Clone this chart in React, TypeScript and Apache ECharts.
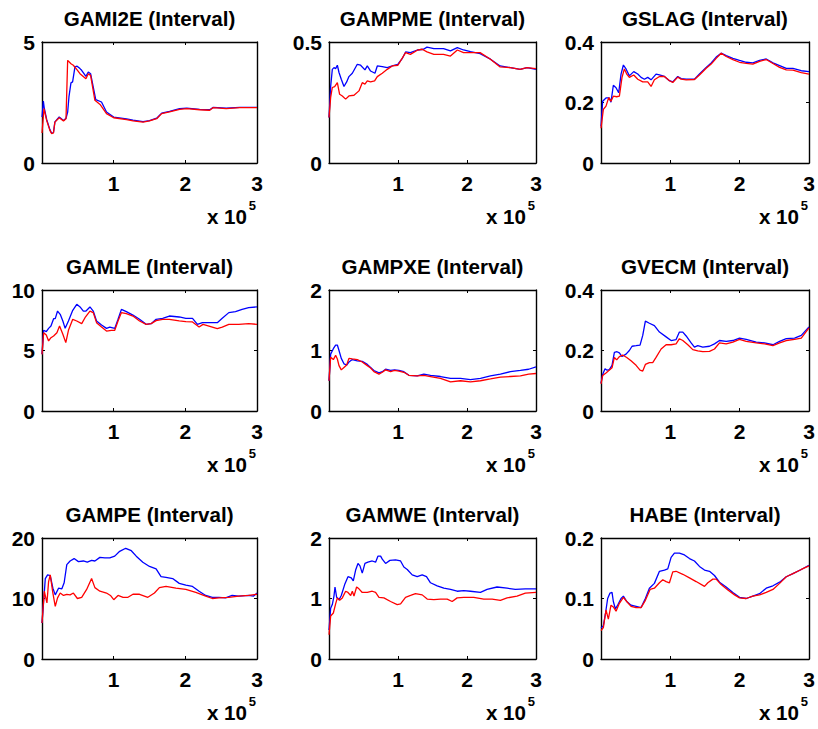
import React, { useEffect, useRef } from "react";
import * as echarts from "echarts";

// ---------- data (x in units of 1e5) ----------
const titles = [
  "GAMI2E (Interval)", "GAMPME (Interval)", "GSLAG (Interval)",
  "GAMLE (Interval)", "GAMPXE (Interval)", "GVECM (Interval)",
  "GAMPE (Interval)", "GAMWE (Interval)", "HABE (Interval)",
];
const yMax = [5, 0.5, 0.4, 10, 2, 0.4, 20, 2, 0.2];
const yStep = [5, 0.5, 0.2, 5, 1, 0.2, 10, 1, 0.1];
const xMax = 3;
const xStep = 1;
const xExponentLabel = "x 10";
const xExponent = "5";

const blueGAMI2E = [[0,1.9],[0.019,2.56],[0.03,2.3],[0.065,1.8],[0.11,1.38],[0.135,1.23],[0.16,1.26],[0.18,1.7],[0.24,1.9],[0.3,1.76],[0.335,1.85],[0.358,2.1],[0.376,2.73],[0.404,3.31],[0.427,3.35],[0.46,3.97],[0.49,4.0],[0.53,3.9],[0.553,3.83],[0.613,3.58],[0.646,3.76],[0.678,3.69],[0.75,2.62],[0.83,2.52],[0.9,2.11],[1.0,1.9],[1.18,1.82],[1.27,1.77],[1.41,1.71],[1.5,1.75],[1.6,1.85],[1.67,2.06],[1.78,2.13],[1.92,2.25],[2.02,2.27],[2.2,2.22],[2.34,2.2],[2.39,2.3],[2.57,2.27],[2.76,2.3],[3.0,2.3]];
const redGAMI2E = [[0,1.24],[0.028,2.25],[0.065,1.76],[0.11,1.35],[0.135,1.21],[0.16,1.24],[0.18,1.69],[0.24,1.87],[0.3,1.74],[0.335,1.83],[0.358,4.24],[0.404,4.1],[0.437,4.04],[0.49,3.85],[0.53,3.69],[0.613,3.48],[0.646,3.69],[0.678,3.62],[0.738,2.59],[0.81,2.42],[0.9,2.04],[1.0,1.87],[1.18,1.79],[1.27,1.74],[1.41,1.69],[1.5,1.74],[1.6,1.83],[1.67,2.04],[1.78,2.11],[1.92,2.22],[2.02,2.25],[2.2,2.2],[2.34,2.18],[2.39,2.29],[2.57,2.25],[2.76,2.29],[3.0,2.29]];

const blueGAMPME = [[0,0.188],[0.024,0.316],[0.048,0.387],[0.072,0.394],[0.096,0.39],[0.121,0.404],[0.145,0.374],[0.178,0.346],[0.217,0.316],[0.256,0.335],[0.289,0.357],[0.338,0.371],[0.41,0.408],[0.458,0.404],[0.521,0.385],[0.555,0.401],[0.603,0.38],[0.666,0.371],[0.7,0.401],[0.772,0.398],[0.844,0.394],[0.917,0.401],[0.999,0.408],[1.06,0.431],[1.11,0.459],[1.18,0.456],[1.28,0.467],[1.37,0.47],[1.42,0.479],[1.52,0.473],[1.66,0.473],[1.76,0.463],[1.86,0.477],[1.95,0.467],[2.05,0.46],[2.19,0.452],[2.34,0.429],[2.48,0.401],[2.63,0.394],[2.77,0.387],[2.87,0.394],[3.0,0.387]];
const redGAMPME = [[0,0.188],[0.024,0.271],[0.048,0.312],[0.082,0.316],[0.121,0.332],[0.154,0.284],[0.193,0.277],[0.241,0.264],[0.289,0.277],[0.362,0.28],[0.434,0.298],[0.482,0.332],[0.521,0.326],[0.555,0.339],[0.603,0.335],[0.661,0.339],[0.7,0.357],[0.772,0.371],[0.844,0.387],[0.917,0.401],[0.999,0.404],[1.11,0.456],[1.18,0.449],[1.28,0.466],[1.35,0.47],[1.42,0.459],[1.52,0.449],[1.66,0.449],[1.76,0.442],[1.86,0.467],[1.95,0.456],[2.05,0.456],[2.19,0.456],[2.34,0.429],[2.48,0.397],[2.63,0.394],[2.77,0.387],[2.87,0.394],[3.0,0.39]];

const blueGSLAG = [[0,0.121],[0.024,0.204],[0.072,0.215],[0.12,0.215],[0.144,0.201],[0.178,0.257],[0.217,0.249],[0.255,0.232],[0.289,0.294],[0.323,0.324],[0.361,0.311],[0.409,0.288],[0.472,0.302],[0.53,0.294],[0.578,0.283],[0.626,0.277],[0.674,0.283],[0.722,0.275],[0.794,0.294],[0.843,0.291],[0.915,0.286],[0.987,0.272],[1.035,0.268],[1.107,0.286],[1.156,0.279],[1.228,0.277],[1.348,0.277],[1.42,0.294],[1.517,0.316],[1.589,0.331],[1.661,0.35],[1.733,0.363],[1.806,0.355],[1.902,0.346],[1.998,0.339],[2.094,0.333],[2.19,0.331],[2.287,0.339],[2.383,0.344],[2.48,0.331],[2.576,0.322],[2.672,0.313],[2.768,0.313],[2.889,0.305],[3.0,0.302]];
const redGSLAG = [[0,0.115],[0.034,0.177],[0.072,0.188],[0.111,0.216],[0.144,0.204],[0.178,0.221],[0.226,0.219],[0.265,0.221],[0.303,0.283],[0.337,0.311],[0.371,0.294],[0.409,0.283],[0.472,0.291],[0.53,0.277],[0.602,0.268],[0.674,0.268],[0.722,0.253],[0.77,0.275],[0.843,0.286],[0.915,0.286],[0.987,0.272],[1.035,0.266],[1.107,0.284],[1.156,0.277],[1.228,0.275],[1.348,0.276],[1.42,0.291],[1.517,0.313],[1.589,0.327],[1.661,0.346],[1.733,0.363],[1.806,0.352],[1.902,0.342],[1.998,0.333],[2.094,0.329],[2.19,0.327],[2.287,0.336],[2.383,0.342],[2.48,0.329],[2.576,0.316],[2.672,0.308],[2.768,0.307],[2.889,0.299],[3.0,0.294]];

const blueGAMLE = [[0,4.7],[0.023,6.67],[0.06,6.56],[0.092,6.83],[0.125,7.02],[0.162,7.63],[0.185,7.63],[0.217,8.26],[0.254,7.99],[0.291,7.44],[0.323,6.83],[0.369,7.44],[0.429,8.32],[0.485,8.82],[0.531,8.6],[0.577,8.26],[0.614,8.26],[0.669,8.6],[0.715,8.26],[0.761,7.44],[0.831,7.11],[0.9,6.83],[0.946,6.94],[1.015,6.83],[1.061,7.58],[1.108,8.4],[1.177,8.21],[1.269,7.93],[1.361,7.58],[1.454,7.16],[1.523,7.22],[1.592,7.58],[1.684,7.66],[1.777,7.85],[1.915,7.77],[2.007,7.66],[2.1,7.66],[2.169,7.16],[2.238,7.3],[2.33,7.3],[2.446,7.3],[2.515,7.66],[2.607,8.13],[2.7,8.21],[2.792,8.4],[2.884,8.54],[3.0,8.6]];
const redGAMLE = [[0,4.68],[0.023,6.47],[0.06,6.28],[0.092,5.79],[0.125,6.06],[0.162,6.2],[0.208,6.47],[0.245,7.02],[0.291,6.34],[0.332,5.65],[0.369,6.67],[0.429,7.58],[0.485,7.44],[0.554,7.22],[0.6,7.71],[0.669,8.26],[0.715,8.13],[0.761,7.3],[0.831,6.94],[0.9,6.61],[0.969,6.67],[1.015,6.67],[1.061,7.44],[1.108,8.13],[1.177,8.04],[1.269,7.85],[1.361,7.44],[1.454,7.16],[1.523,7.22],[1.592,7.47],[1.684,7.58],[1.777,7.58],[1.915,7.44],[2.007,7.38],[2.1,7.36],[2.192,6.94],[2.247,7.16],[2.33,7.02],[2.446,6.8],[2.515,6.94],[2.607,7.16],[2.746,7.16],[2.884,7.22],[3.0,7.16]];

const blueGAMPXE = [[0,0.5],[0.024,0.94],[0.063,1.03],[0.096,1.09],[0.121,1.09],[0.145,1.0],[0.178,0.87],[0.217,0.78],[0.256,0.76],[0.289,0.81],[0.338,0.85],[0.41,0.83],[0.482,0.82],[0.555,0.77],[0.603,0.72],[0.651,0.67],[0.724,0.63],[0.772,0.65],[0.82,0.69],[0.892,0.67],[0.95,0.68],[1.013,0.67],[1.085,0.65],[1.158,0.59],[1.278,0.58],[1.375,0.61],[1.471,0.59],[1.616,0.57],[1.761,0.54],[1.905,0.54],[2.05,0.52],[2.195,0.54],[2.34,0.58],[2.484,0.61],[2.629,0.65],[2.774,0.67],[2.894,0.69],[3.0,0.73]];
const redGAMPXE = [[0,0.5],[0.024,0.89],[0.063,0.85],[0.096,0.92],[0.121,0.86],[0.145,0.75],[0.178,0.68],[0.217,0.72],[0.256,0.76],[0.289,0.87],[0.338,0.86],[0.41,0.85],[0.482,0.81],[0.555,0.75],[0.603,0.71],[0.651,0.65],[0.724,0.61],[0.772,0.64],[0.82,0.68],[0.892,0.65],[0.95,0.67],[1.013,0.66],[1.085,0.64],[1.158,0.59],[1.278,0.58],[1.375,0.59],[1.471,0.57],[1.616,0.54],[1.761,0.48],[1.905,0.5],[2.05,0.48],[2.195,0.5],[2.34,0.53],[2.484,0.56],[2.629,0.57],[2.774,0.58],[2.894,0.61],[3.0,0.62]];

const blueGVECM = [[0,0.092],[0.024,0.121],[0.058,0.14],[0.087,0.135],[0.12,0.137],[0.159,0.151],[0.193,0.194],[0.231,0.196],[0.265,0.192],[0.303,0.18],[0.361,0.188],[0.409,0.2],[0.448,0.214],[0.506,0.216],[0.563,0.218],[0.602,0.25],[0.64,0.297],[0.698,0.29],[0.77,0.282],[0.843,0.261],[0.939,0.245],[1.011,0.233],[1.083,0.236],[1.131,0.261],[1.18,0.261],[1.228,0.248],[1.3,0.225],[1.348,0.211],[1.396,0.216],[1.468,0.211],[1.565,0.214],[1.637,0.222],[1.709,0.233],[1.805,0.23],[1.902,0.233],[1.998,0.241],[2.094,0.237],[2.239,0.228],[2.359,0.225],[2.48,0.219],[2.576,0.23],[2.672,0.239],[2.792,0.241],[2.889,0.25],[3.0,0.278]];
const redGVECM = [[0,0.09],[0.024,0.117],[0.072,0.126],[0.13,0.137],[0.159,0.143],[0.193,0.177],[0.226,0.169],[0.265,0.18],[0.313,0.185],[0.371,0.177],[0.433,0.166],[0.506,0.151],[0.563,0.135],[0.602,0.132],[0.64,0.154],[0.698,0.16],[0.746,0.16],[0.794,0.177],[0.867,0.205],[0.939,0.219],[1.011,0.219],[1.083,0.222],[1.131,0.239],[1.18,0.233],[1.252,0.219],[1.324,0.203],[1.396,0.199],[1.468,0.196],[1.565,0.197],[1.637,0.205],[1.709,0.225],[1.805,0.222],[1.902,0.228],[1.998,0.237],[2.094,0.23],[2.239,0.225],[2.359,0.222],[2.48,0.216],[2.576,0.225],[2.672,0.233],[2.792,0.237],[2.889,0.241],[3.0,0.275]];

const blueGAMPE = [[0,5.95],[0.023,9.53],[0.046,13.28],[0.078,13.9],[0.115,13.8],[0.152,11.7],[0.185,10.6],[0.231,11.7],[0.277,11.6],[0.309,12.6],[0.346,15.6],[0.392,16.2],[0.448,16.6],[0.508,16.1],[0.577,16.2],[0.632,16.0],[0.692,16.3],[0.738,16.2],[0.808,16.8],[0.877,16.7],[0.946,16.7],[1.015,17.0],[1.084,17.8],[1.168,18.3],[1.246,17.9],[1.315,17.0],[1.407,16.0],[1.5,15.3],[1.592,14.9],[1.661,13.6],[1.73,13.5],[1.823,13.3],[1.915,12.5],[2.007,12.2],[2.1,12.0],[2.192,11.2],[2.284,10.5],[2.377,10.2],[2.469,10.2],[2.561,10.1],[2.653,10.5],[2.746,10.4],[2.884,10.5],[2.953,10.4],[3.0,10.9]];
const redGAMPE = [[0,5.95],[0.032,11.2],[0.069,9.26],[0.092,12.8],[0.115,13.9],[0.152,10.9],[0.185,8.7],[0.217,10.1],[0.254,10.9],[0.3,10.5],[0.346,10.7],[0.392,10.6],[0.438,10.9],[0.494,10.0],[0.554,10.2],[0.623,11.5],[0.692,13.3],[0.738,11.8],[0.808,11.2],[0.9,10.9],[0.955,10.5],[1.001,9.8],[1.061,10.5],[1.131,10.2],[1.2,10.2],[1.269,10.7],[1.361,10.7],[1.477,10.2],[1.569,10.9],[1.638,11.8],[1.73,12.0],[1.869,11.7],[2.007,11.5],[2.146,11.0],[2.284,10.4],[2.377,10.0],[2.469,10.1],[2.607,10.2],[2.746,10.4],[2.884,10.5],[3.0,10.7]];

const blueGAMWE = [[0,0.48],[0.024,0.84],[0.048,0.9],[0.072,1.04],[0.087,1.19],[0.111,1.02],[0.145,0.98],[0.178,1.05],[0.227,1.23],[0.275,1.36],[0.323,1.34],[0.352,1.29],[0.386,1.47],[0.42,1.58],[0.449,1.54],[0.482,1.42],[0.521,1.58],[0.564,1.6],[0.627,1.62],[0.675,1.6],[0.709,1.7],[0.748,1.7],[0.772,1.65],[0.82,1.58],[0.883,1.63],[0.965,1.64],[1.037,1.62],[1.085,1.52],[1.134,1.48],[1.206,1.39],[1.278,1.36],[1.351,1.39],[1.413,1.36],[1.471,1.26],[1.568,1.21],[1.664,1.17],[1.761,1.15],[1.857,1.12],[1.954,1.13],[2.05,1.12],[2.195,1.1],[2.291,1.15],[2.436,1.19],[2.581,1.17],[2.701,1.15],[2.846,1.16],[3.0,1.16]];
const redGAMWE = [[0,0.4],[0.024,0.71],[0.063,0.76],[0.096,0.91],[0.121,1.01],[0.154,0.97],[0.193,1.01],[0.241,1.12],[0.275,1.1],[0.314,1.05],[0.338,1.12],[0.362,1.04],[0.4,1.19],[0.434,1.16],[0.482,1.1],[0.555,1.1],[0.627,1.12],[0.675,1.1],[0.724,1.02],[0.796,1.01],[0.892,0.95],[0.989,0.9],[1.037,0.91],[1.109,1.02],[1.182,1.05],[1.254,1.08],[1.351,1.06],[1.423,0.99],[1.52,0.98],[1.616,0.99],[1.713,0.99],[1.785,0.95],[1.857,1.01],[1.954,1.02],[2.098,1.02],[2.243,0.99],[2.364,0.99],[2.484,0.97],[2.581,1.01],[2.725,1.04],[2.846,1.09],[3.0,1.1]];

const blueHABE = [[0,0.051],[0.034,0.055],[0.063,0.074],[0.096,0.1],[0.13,0.109],[0.159,0.11],[0.178,0.095],[0.207,0.083],[0.241,0.089],[0.289,0.1],[0.323,0.104],[0.371,0.095],[0.433,0.089],[0.506,0.087],[0.578,0.085],[0.64,0.1],[0.698,0.117],[0.77,0.125],[0.843,0.145],[0.915,0.147],[0.963,0.149],[1.011,0.168],[1.059,0.175],[1.131,0.175],[1.204,0.172],[1.276,0.166],[1.348,0.162],[1.42,0.153],[1.493,0.147],[1.565,0.145],[1.637,0.138],[1.709,0.127],[1.805,0.119],[1.902,0.11],[1.998,0.102],[2.094,0.1],[2.19,0.104],[2.287,0.108],[2.383,0.117],[2.48,0.121],[2.576,0.127],[2.672,0.136],[2.768,0.141],[2.889,0.148],[3.0,0.155]];
const redHABE = [[0,0.047],[0.034,0.052],[0.072,0.081],[0.106,0.066],[0.144,0.089],[0.178,0.086],[0.217,0.079],[0.265,0.092],[0.323,0.102],[0.371,0.095],[0.433,0.087],[0.506,0.085],[0.578,0.085],[0.64,0.097],[0.708,0.115],[0.77,0.117],[0.843,0.126],[0.891,0.131],[0.939,0.128],[0.987,0.126],[1.035,0.144],[1.083,0.145],[1.18,0.14],[1.276,0.134],[1.372,0.128],[1.493,0.12],[1.541,0.126],[1.613,0.132],[1.661,0.132],[1.733,0.123],[1.83,0.114],[1.926,0.106],[1.998,0.101],[2.094,0.1],[2.19,0.104],[2.287,0.106],[2.383,0.11],[2.48,0.115],[2.576,0.125],[2.672,0.136],[2.768,0.141],[2.889,0.148],[3.0,0.154]];

const blueSeries = [blueGAMI2E, blueGAMPME, blueGSLAG, blueGAMLE, blueGAMPXE, blueGVECM, blueGAMPE, blueGAMWE, blueHABE];
const redSeries = [redGAMI2E, redGAMPME, redGSLAG, redGAMLE, redGAMPXE, redGVECM, redGAMPE, redGAMWE, redHABE];

// ---------- layout ----------
const colLeft = [42, 329, 601];
const colWidth = [215, 207, 208];
const rowTop = [42, 290, 538];
const rowHeight = 121;
const FONT = '"Liberation Sans", Arial, Helvetica, sans-serif';

export default function App() {
  const ref = useRef<HTMLDivElement>(null);
  useEffect(() => {
    if (!ref.current) return;
    const chart = echarts.init(ref.current, undefined, { renderer: "svg" });
    const grid: any[] = [];
    const xAxis: any[] = [];
    const yAxis: any[] = [];
    const series: any[] = [];
    const graphic: any[] = [];
    const lineCol = "#000";
    const labelStyle = { color: "#000", fontFamily: FONT, fontWeight: "bold", fontSize: 21 };
    for (let i = 0; i < 9; i++) {
      const r = Math.floor(i / 3);
      const c = i % 3;
      const left = colLeft[c];
      const top = rowTop[r];
      const w = colWidth[c];
      const h = rowHeight;
      grid.push({ left, top, width: w, height: h, containLabel: false });
      const axisBase = {
        type: "value",
        gridIndex: i,
        splitLine: { show: false },
        axisLine: { show: true, onZero: false, lineStyle: { color: lineCol, width: 1.4 } },
        axisTick: { show: true, inside: true, length: 3, lineStyle: { color: lineCol, width: 1 } },
      };
      xAxis.push({
        ...axisBase, position: "bottom", min: 0, max: xMax, interval: xStep,
        axisLabel: { ...labelStyle, margin: 10, formatter: (v: number) => (v === 0 ? "" : String(v)) },
      });
      xAxis.push({ ...axisBase, position: "top", min: 0, max: xMax, interval: xStep, axisLabel: { show: false } });
      yAxis.push({
        ...axisBase, position: "left", min: 0, max: yMax[i], interval: yStep[i],
        axisLabel: { ...labelStyle, margin: 7 },
      });
      yAxis.push({ ...axisBase, position: "right", min: 0, max: yMax[i], interval: yStep[i], axisLabel: { show: false } });
      series.push({
        type: "line", xAxisIndex: 2 * i, yAxisIndex: 2 * i, data: blueSeries[i],
        showSymbol: false, symbol: "none", lineStyle: { color: "#0000ff", width: 1.3 }, z: 2,
      });
      series.push({
        type: "line", xAxisIndex: 2 * i, yAxisIndex: 2 * i, data: redSeries[i],
        showSymbol: false, symbol: "none", lineStyle: { color: "#ff0000", width: 1.3 }, z: 3,
      });
      graphic.push({
        type: "text", x: left + w / 2, y: top - 24,
        style: { text: titles[i], fill: "#000", font: `bold 20.6px ${FONT}`, textAlign: "center", textVerticalAlign: "middle" },
      });
      graphic.push({
        type: "text", x: left + w - 10, y: top + h + 53,
        style: { text: xExponentLabel, fill: "#000", font: `bold 20.6px ${FONT}`, textAlign: "right", textVerticalAlign: "middle" },
      });
      graphic.push({
        type: "text", x: left + w - 1, y: top + h + 42,
        style: { text: xExponent, fill: "#000", font: `bold 13px ${FONT}`, textAlign: "right", textVerticalAlign: "middle" },
      });
    }
    chart.setOption({
      animation: false,
      backgroundColor: "#fff",
      grid, xAxis, yAxis, series, graphic,
    });
    return () => chart.dispose();
  }, []);
  return (
    <div
      ref={ref}
      style={{ position: "absolute", left: 0, top: 0, width: 818, height: 729, background: "#fff" }}
    />
  );
}
